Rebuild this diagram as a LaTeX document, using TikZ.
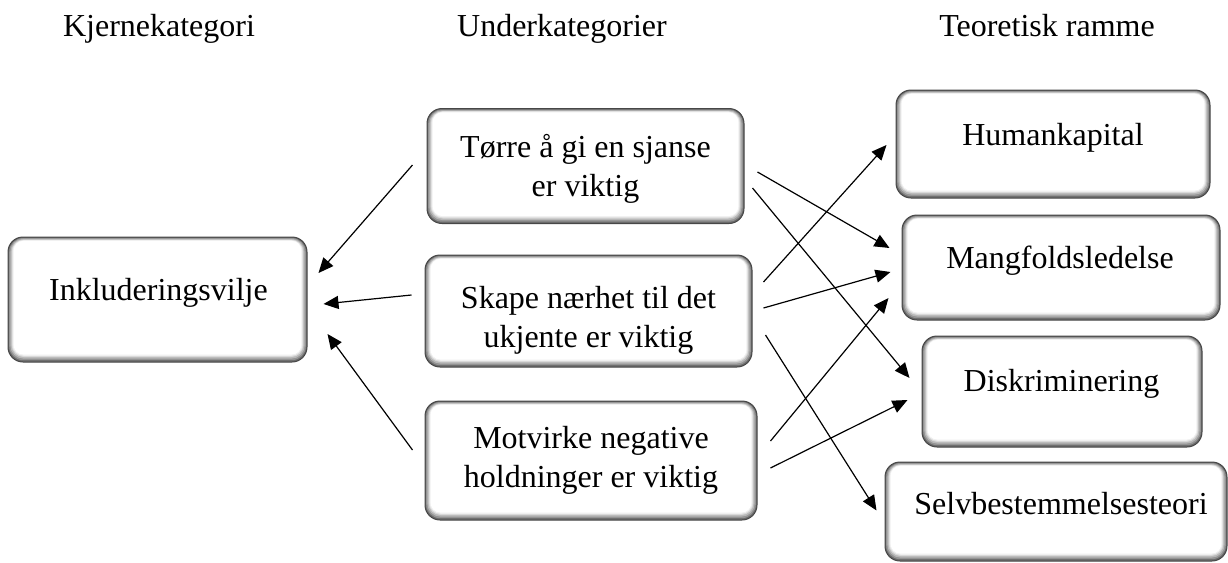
\documentclass[tikz,border=0pt]{standalone}
\usepackage{fontspec}
\setmainfont{Liberation Serif}
\usetikzlibrary{arrows.meta}
\tikzset{
  bx/.style={draw=black!72, line width=0.5pt, rounded corners=7.5pt, fill=black!58, inner sep=0pt,
    path picture={
      \fill[black!42, rounded corners=7pt] ([xshift=0.6pt,yshift=-0.5pt]path picture bounding box.north west) rectangle ([xshift=-0.6pt,yshift=0.9pt]path picture bounding box.south east);
      \fill[black!28, rounded corners=6.5pt] ([xshift=1.2pt,yshift=-0.9pt]path picture bounding box.north west) rectangle ([xshift=-1.2pt,yshift=1.7pt]path picture bounding box.south east);
      \fill[black!15, rounded corners=6pt] ([xshift=1.8pt,yshift=-1.3pt]path picture bounding box.north west) rectangle ([xshift=-1.8pt,yshift=2.5pt]path picture bounding box.south east);
      \fill[black!6, rounded corners=5.5pt] ([xshift=2.3pt,yshift=-1.6pt]path picture bounding box.north west) rectangle ([xshift=-2.3pt,yshift=3.1pt]path picture bounding box.south east);
      \fill[white, rounded corners=5pt] ([xshift=2.8pt,yshift=-1.9pt]path picture bounding box.north west) rectangle ([xshift=-2.8pt,yshift=3.7pt]path picture bounding box.south east);
    }},
  txt/.style={font=\fontsize{16}{19.5}\selectfont, align=center, inner sep=0pt},
  arr/.style={line width=0.6pt, -{Triangle[length=7.5pt, width=6.5pt]}}
}
\begin{document}
\begin{tikzpicture}[x=0.5pt, y=-0.5pt]
\useasboundingbox (0,0) rectangle (1228,563);
% headers
\node[txt, anchor=base] (h1) at (159,36) {Kjernekategori};
\node[txt, anchor=base] (h2) at (562,36) {Underkategorier};
\node[txt, anchor=base] (h3) at (1047,36) {Teoretisk ramme};
% boxes
\node[bx, minimum width=149.5pt, minimum height=62.5pt] (kj) at (157.5,299.5) {};
\node[bx, minimum width=158.5pt, minimum height=57.5pt] (tor) at (585.5,166) {};
\node[bx, minimum width=163.5pt, minimum height=56pt] (sk) at (588.5,311) {};
\node[bx, minimum width=166pt, minimum height=59.5pt] (mo) at (591,460.5) {};
\node[bx, minimum width=157pt, minimum height=54pt] (hum) at (1053,144) {};
\node[bx, minimum width=159pt, minimum height=52.5pt] (man) at (1061,267.5) {};
\node[bx, minimum width=140pt, minimum height=55.5pt] (dis) at (1062,391.5) {};
\node[bx, minimum width=171pt, minimum height=49.5pt] (sel) at (1056,511.5) {};
% texts
\node[txt, anchor=base] (kjt) at (158.5,300) {Inkluderingsvilje};
\node[txt] (tort) at (585.5,168.5) {Tørre å gi en sjanse\\er viktig};
\node[txt] (skt) at (588.5,320) {Skape nærhet til det\\ukjente er viktig};
\node[txt] (mot) at (591,460) {Motvirke negative\\holdninger er viktig};
\node[txt, anchor=base] (humt) at (1053,145) {Humankapital};
\node[txt, anchor=base] (mant) at (1060,268) {Mangfoldsledelse};
\node[txt, anchor=base] (dist) at (1061.5,391.5) {Diskriminering};
\node[txt, anchor=base] (selt) at (1061,514) {Selvbestemmelsesteori};
% arrows to core category
\draw[arr] ([shift={(-14,-1)}]tor.west) -- ([shift={(11,-26.5)}]kj.east);
\draw[arr] ([shift={(-13,-16)}]sk.west) -- ([shift={(16,4.5)}]kj.east);
\draw[arr] ([shift={(-12,-10.5)}]mo.west) -- ([shift={(20,34.5)}]kj.east);
% arrows to theory
\draw[arr] ([shift={(13,6)}]tor.east) -- ([shift={(-12,-19.5)}]man.west);
\draw[arr] ([shift={(8,22)}]tor.east) -- ([shift={(-12,-13.5)}]dis.west);
\draw[arr] ([shift={(11,-29)}]sk.east) -- ([shift={(-9,1)}]hum.west);
\draw[arr] ([shift={(11,-3)}]sk.east) -- ([shift={(-11,4.5)}]man.west);
\draw[arr] ([shift={(13,24)}]sk.east) -- ([shift={(-8,-1)}]sel.west);
\draw[arr] ([shift={(13,-19.5)}]mo.east) -- ([shift={(-13,30.5)}]man.west);
\draw[arr] ([shift={(13,7.5)}]mo.east) -- ([shift={(-14,8.5)}]dis.west);
\end{tikzpicture}
\end{document}
